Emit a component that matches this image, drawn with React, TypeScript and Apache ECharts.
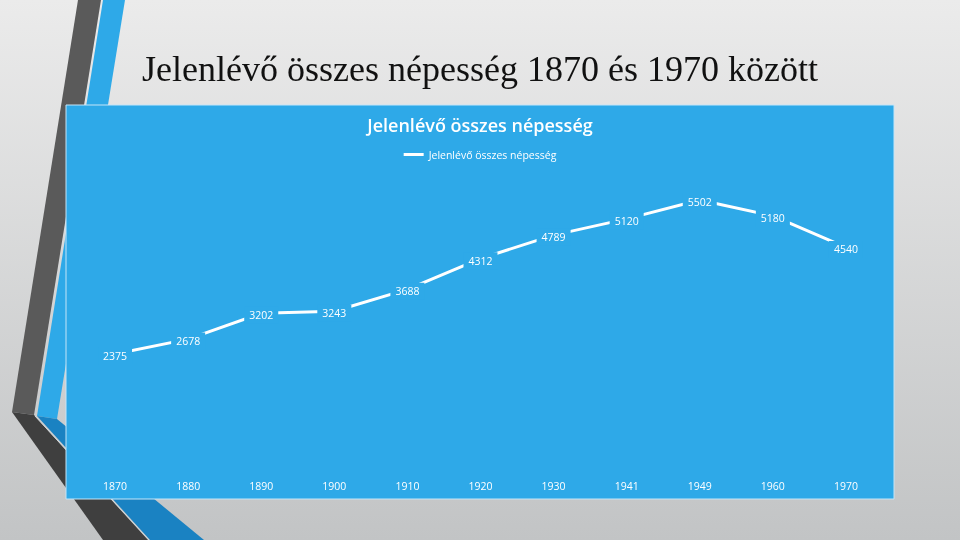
import React, { useEffect, useRef } from "react";
import * as echarts from "echarts";

const categories = ["1870", "1880", "1890", "1900", "1910", "1920", "1930", "1941", "1949", "1960", "1970"];
const population = [2375, 2678, 3202, 3243, 3688, 4312, 4789, 5120, 5502, 5180, 4540];
const seriesName = "Jelenlévő összes népesség";
const chartTitle = "Jelenlévő összes népesség";
const slideTitle = "Jelenlévő összes népesség 1870 és 1970 között";

const BLUE = "#2ea9e8";

export default function App() {
  const ref = useRef<HTMLDivElement>(null);
  useEffect(() => {
    if (!ref.current) return;
    const chart = echarts.init(ref.current, null, { renderer: "svg" });
    chart.setOption({
      animation: false,
      graphic: [
        {
          type: "rect",
          z: -10,
          shape: { x: 0, y: 0, width: 960, height: 540 },
          style: {
            fill: new echarts.graphic.LinearGradient(0, 0, 0, 1, [
              { offset: 0, color: "#ebebeb" },
              { offset: 1, color: "#c2c4c5" },
            ]),
          },
        },
        { type: "polygon", z: -9, shape: { points: [[78, 0], [101, 0], [34, 415], [12, 412]] }, style: { fill: "#5a5a5a" } },
        { type: "polygon", z: -9, shape: { points: [[12, 412], [34, 415], [148, 540], [103, 540]] }, style: { fill: "#3f3f3f" } },
        { type: "polygon", z: -9, shape: { points: [[103, 0], [125, 0], [57, 419], [37, 416]] }, style: { fill: BLUE } },
        { type: "polygon", z: -9, shape: { points: [[37, 416], [57, 419], [204, 540], [150, 540]] }, style: { fill: "#1a82c2" } },
        { type: "line", z: -8, shape: { x1: 35, y1: 416, x2: 149, y2: 540 }, style: { stroke: "#cfd6da", lineWidth: 1 } },
        {
          type: "rect",
          z: -5,
          shape: { x: 66, y: 105, width: 828, height: 394 },
          style: { fill: BLUE, stroke: "#c4e5f8", lineWidth: 1 },
        },
        {
          type: "text",
          z: -4,
          x: 480,
          y: 69,
          style: {
            text: slideTitle,
            fill: "#111111",
            font: "36px 'Liberation Serif', 'DejaVu Serif', serif",
            textAlign: "center",
            textVerticalAlign: "middle",
          },
        },
      ],
      title: {
        text: chartTitle,
        left: "center",
        top: 111,
        textStyle: { color: "#ffffff", fontSize: 18, fontWeight: 600, fontFamily: "Open Sans" },
      },
      legend: {
        top: 144,
        left: "center",
        icon: "rect",
        itemWidth: 20,
        itemHeight: 3,
        textStyle: { color: "#ffffff", fontSize: 10.5, fontFamily: "Open Sans" },
        data: [seriesName],
      },
      grid: { left: 78.5, right: 77.5, top: 175.5, bottom: 69 },
      xAxis: {
        type: "category",
        data: categories,
        axisLine: { show: false },
        axisTick: { show: false },
        axisLabel: { color: "#ffffff", fontSize: 10.5, fontFamily: "Open Sans", margin: 9 },
      },
      yAxis: {
        type: "value",
        min: 0,
        max: 6000,
        show: false,
        splitLine: { show: false },
      },
      series: [
        {
          name: seriesName,
          type: "line",
          data: population,
          symbol: "circle",
          symbolSize: 1,
          showSymbol: true,
          itemStyle: { color: "#ffffff" },
          lineStyle: { color: "#ffffff", width: 3 },
          label: {
            show: true,
            position: "inside",
            offset: [0, 2],
            color: "#ffffff",
            fontSize: 10.5,
            fontFamily: "Open Sans",
            backgroundColor: BLUE,
            padding: [3, 5],
          },
        },
      ],
    });
    return () => chart.dispose();
  }, []);
  return <div ref={ref} style={{ position: "fixed", left: 0, top: 0, width: 960, height: 540 }} />;
}
